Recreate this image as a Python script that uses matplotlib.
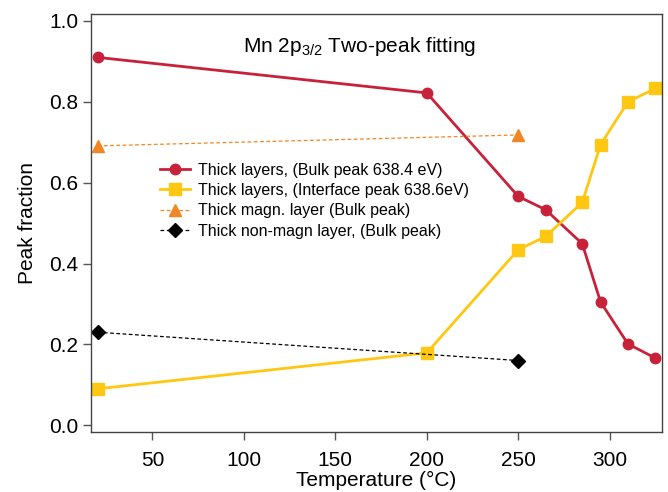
import matplotlib
matplotlib.use("Agg")
import matplotlib.pyplot as plt

plt.rcParams['font.family'] = ['Liberation Sans', 'DejaVu Sans']
plt.rcParams['mathtext.fontset'] = 'custom'
plt.rcParams['mathtext.rm'] = 'Liberation Sans'
plt.rcParams['mathtext.it'] = 'Liberation Sans'

# temperatures (°C) and peak fractions
temp = [20, 200, 250, 265, 285, 295, 310, 325]
bulk = [0.910, 0.822, 0.566, 0.533, 0.449, 0.305, 0.201, 0.166]
interface = [0.090, 0.179, 0.434, 0.467, 0.551, 0.694, 0.800, 0.833]

temp_single = [20, 250]
magn = [0.691, 0.718]
nonmagn = [0.230, 0.160]

fig = plt.figure(figsize=(6.68, 4.92), dpi=100)
ax = fig.add_axes([0.136, 0.121, 0.855, 0.850])

ax.plot(temp, bulk, '-o', color='#C8213A', lw=2.0, ms=7.5,
        label='Thick layers, (Bulk peak 638.4 eV)')
ax.plot(temp, interface, '-s', color='#FFC712', lw=2.0, ms=8,
        label='Thick layers, (Interface peak 638.6eV)')
ax.plot(temp_single, magn, '--^', color='#F28624', lw=0.9, ms=8,
        dashes=(3, 2), label='Thick magn. layer (Bulk peak)')
ax.plot(temp_single, nonmagn, '--D', color='black', lw=0.9, ms=7,
        dashes=(3, 2), label='Thick non-magn layer, (Bulk peak)')

ax.set_xlim(16.3, 328.6)
ax.set_ylim(-0.018, 1.0166)
ax.set_xticks([50, 100, 150, 200, 250, 300])
ax.set_yticks([0.0, 0.2, 0.4, 0.6, 0.8, 1.0])
ax.set_yticklabels(['0.0', '0.2', '0.4', '0.6', '0.8', '1.0'])
ax.tick_params(direction='out', length=6, width=1, color='#555555',
               labelsize=15, pad=3)
ax.tick_params(axis='x', pad=7)
for s in ax.spines.values():
    s.set_color('#444444')
    s.set_linewidth(1.0)

ax.set_xlabel('Temperature (°C)', fontsize=15, labelpad=1)
ax.set_ylabel('Peak fraction', fontsize=15, labelpad=9)

ax.text(0.471, 0.91, 'Mn 2p$_{3/2}$ Two-peak fitting', transform=ax.transAxes,
        ha='center', va='baseline', fontsize=15)

ax.legend(loc='upper left', bbox_to_anchor=(0.121, 0.645), frameon=False,
          fontsize=11.5, handlelength=1.9, handletextpad=0.5,
          labelspacing=0.33, borderaxespad=0, borderpad=0)

fig.savefig('out.png', dpi=100)
